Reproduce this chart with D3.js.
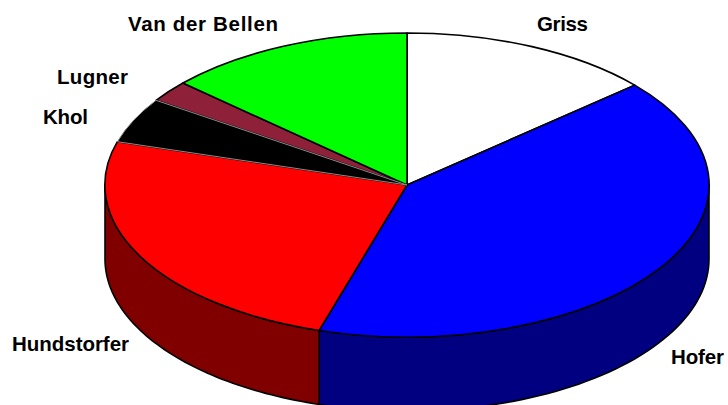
<!DOCTYPE html>
<html><head><meta charset="utf-8">
<script src="https://cdn.jsdelivr.net/npm/d3@7/dist/d3.min.js"></script>
<style>html,body{margin:0;padding:0;background:#fff;overflow:hidden}svg{display:block}
text{font-family:"Liberation Sans",Arial,sans-serif;font-weight:bold;font-size:20.5px;fill:#000}</style>
</head><body><svg id="c" width="728" height="405"></svg>
<script>
const categories = ["Griss","Hofer","Hundstorfer","Khol","Lugner","Van der Bellen"];
const values = [13.6,41.1,24.9,4.8,2.3,13.3];
const topColors = ["#ffffff","#0000ff","#ff0000","#000000","#8e2139","#00ff00"];
const sideColors = ["#808080","#000080","#800000","#000000","#47101c","#008000"];

const W=728,H=405,cx=407,cy=185,rx=302,ry=152,depth=74;
const labelPlace = {
  "Griss":[537,31,51],"Hofer":[671,364,53],"Hundstorfer":[12,351,117],
  "Khol":[43,124,45],"Lugner":[57,84,71],"Van der Bellen":[128,31,150]
};
const svg=d3.select("#c");
const data=categories.map((name,i)=>({name,value:values[i],top:topColors[i],side:sideColors[i]}));
const arcs=d3.pie().sort(null).value(d=>d.value)(data);
const xE=a=>cx+rx*Math.sin(a), yE=a=>cy-ry*Math.cos(a);
const arcGen=d3.arc().innerRadius(0).outerRadius(1);

// side walls: front half of the rim only
const lo=Math.PI/2, hi=3*Math.PI/2;
arcs.forEach(s=>{
  const a0=Math.max(s.startAngle,lo), a1=Math.min(s.endAngle,hi);
  if(a1<=a0) return;
  const p=d3.path();
  p.moveTo(xE(a0),yE(a0));
  p.lineTo(xE(a0),yE(a0)+depth);
  const n=60;
  d3.range(1,n+1).forEach(i=>{const a=a0+(a1-a0)*i/n;p.lineTo(xE(a),yE(a)+depth);});
  p.lineTo(xE(a1),yE(a1));
  d3.range(n-1,-1,-1).forEach(i=>{const a=a0+(a1-a0)*i/n;p.lineTo(xE(a),yE(a));});
  p.closePath();
  svg.append("path").attr("d",p.toString()).attr("fill",s.data.side)
     .attr("stroke","#000").attr("stroke-width",1.6).attr("stroke-linejoin","round");
});

// top face; the black slice goes last so its grey outline stays visible
const order=arcs.slice().sort((a,b)=>(a.data.name==="Khol")-(b.data.name==="Khol"));
svg.selectAll("path.top").data(order).join("path").attr("class","top")
  .attr("transform",`translate(${cx},${cy}) scale(${rx},${ry})`)
  .attr("d",arcGen).attr("fill",d=>d.data.top)
  .attr("stroke",d=>d.data.name==="Khol"?"#8a8a8a":"#000")
  .attr("stroke-width",d=>d.data.name==="Khol"?1:1.6)
  .attr("stroke-linejoin","round")
  .style("vector-effect","non-scaling-stroke");

svg.selectAll("text").data(categories).join("text")
  .attr("x",d=>labelPlace[d][0]).attr("y",d=>labelPlace[d][1])
  .attr("textLength",d=>labelPlace[d][2]).attr("lengthAdjust","spacing").text(d=>d);
</script></body></html>
